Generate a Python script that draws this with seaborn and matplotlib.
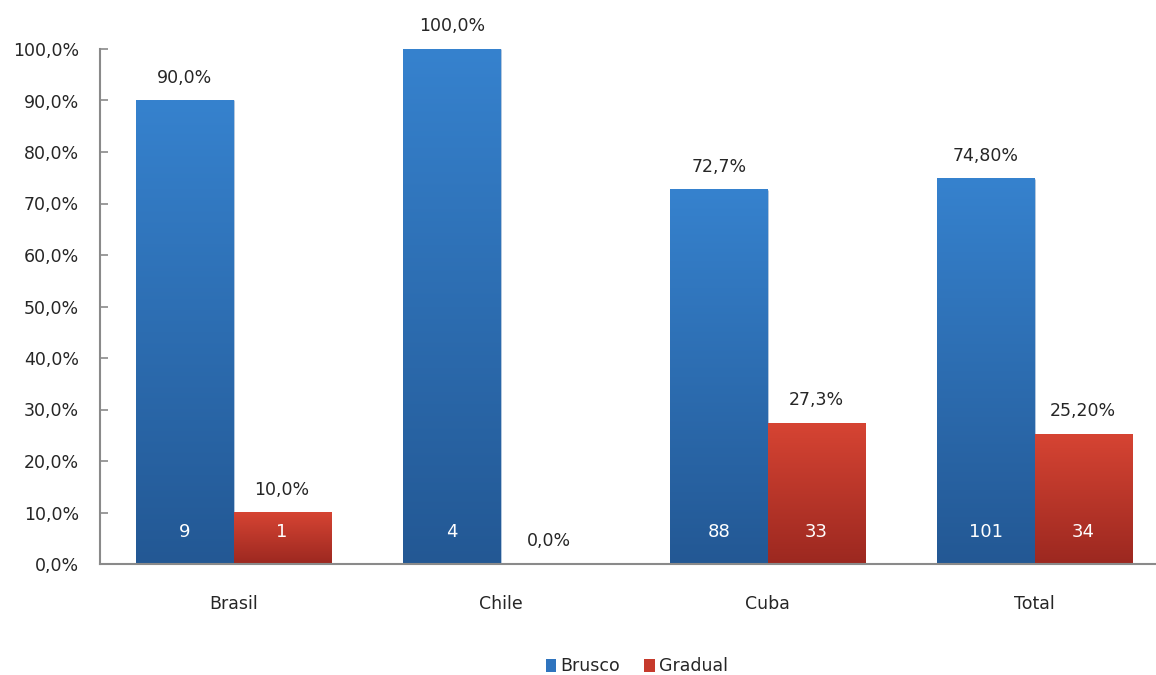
import numpy as np
import pandas as pd
import matplotlib
matplotlib.use("Agg")
import matplotlib.pyplot as plt
import seaborn as sns
from matplotlib.colors import LinearSegmentedColormap
from matplotlib.patches import Patch

# Data
countries = ["Brasil", "Chile", "Cuba", "Total"]
series = ["Brusco", "Gradual"]
brusco_pct = [90.0, 100.0, 72.7, 74.8]
gradual_pct = [10.0, 0.0, 27.3, 25.2]
brusco_n = [9, 4, 88, 101]
gradual_n = [1, 0, 33, 34]
pct_decimals = [1, 1, 1, 2]
y_ticks = [0, 10, 20, 30, 40, 50, 60, 70, 80, 90, 100]

# Colours (top / bottom of each bar's vertical gradient)
grad = {
    "Brusco": ("#3682CE", "#235894"),
    "Gradual": ("#D64433", "#9C2820"),
}
solid = {"Brusco": "#2F74BE", "Gradual": "#C63A2C"}

sns.set_theme(style="white")
plt.rcParams["font.family"] = ["DejaVu Sans"]
text_color = "#262626"

df = pd.DataFrame({
    "pais": countries * 2,
    "tipo": ["Brusco"] * len(countries) + ["Gradual"] * len(countries),
    "pct": brusco_pct + gradual_pct,
    "n": brusco_n + gradual_n,
    "dec": pct_decimals * 2,
})

fig = plt.figure(figsize=(11.56, 6.75), dpi=100)
ax = fig.add_axes([100 / 1156, 111 / 675, 1056 / 1156, 515 / 675])

sns.barplot(data=df, x="pais", y="pct", hue="tipo", order=countries,
            hue_order=series, palette=solid, width=0.727, gap=0,
            errorbar=None, legend=False, ax=ax)

ax.set_xlim(-0.5, 3.455)
ax.set_ylim(0, 100)

# Vertical gradient fill for each bar, plus value labels
ramp = np.linspace(0, 1, 256).reshape(-1, 1)
for p in list(ax.patches):
    h = p.get_height()
    x0 = p.get_x()
    w = p.get_width()
    xc = x0 + w / 2
    cat = int(round(xc))
    tipo = series[0] if xc < cat else series[1]
    row = df[(df["pais"] == countries[cat]) & (df["tipo"] == tipo)].iloc[0]
    if h > 0:
        top, bottom = grad[tipo]
        cmap = LinearSegmentedColormap.from_list(tipo, [bottom, top])
        ax.imshow(ramp, cmap=cmap, extent=[x0, x0 + w, 0, h], origin="lower",
                  aspect="auto", zorder=p.get_zorder() + 0.1, interpolation="bilinear")
        p.set_edgecolor((1, 1, 1, 0.25))
        p.set_linewidth(0.6)
    label = f"{row['pct']:.{int(row['dec'])}f}".replace(".", ",") + "%"
    ax.annotate(label, (xc, h), xytext=(0, 16.5), textcoords="offset points",
                ha="center", va="center", fontsize=12.5, color=text_color,
                annotation_clip=False, zorder=5)
    if row["n"] > 0:
        ax.text(xc, 6.3, str(int(row["n"])), ha="center", va="center",
                fontsize=13, color="white", zorder=5)

ax.set_xlim(-0.5, 3.455)
ax.set_ylim(0, 100)

ax.set_yticks(y_ticks)
ax.set_yticklabels([f"{t:.1f}".replace(".", ",") + "%" for t in y_ticks],
                   fontsize=12.5, color=text_color)
ax.tick_params(axis="y", direction="in", length=6, width=1.2, color="#8A8A8A",
               pad=15, left=True)
ax.tick_params(axis="x", length=0, pad=22, labelsize=12.5, labelcolor=text_color)
ax.set_xlabel("")
ax.set_ylabel("")

for side in ("top", "right"):
    ax.spines[side].set_visible(False)
for side in ("left", "bottom"):
    ax.spines[side].set_color("#8A8A8A")
    ax.spines[side].set_linewidth(1.5)

handles = [Patch(facecolor=solid[s], edgecolor="none") for s in series]
fig.legend(handles, series, loc="center", bbox_to_anchor=(0.551, 0.013), ncol=2,
           frameon=False, handlelength=0.6, handleheight=0.8, handletextpad=0.25,
           columnspacing=1.4, fontsize=12.5, labelcolor=text_color)

fig.savefig("out.png", dpi=100, facecolor="white")
